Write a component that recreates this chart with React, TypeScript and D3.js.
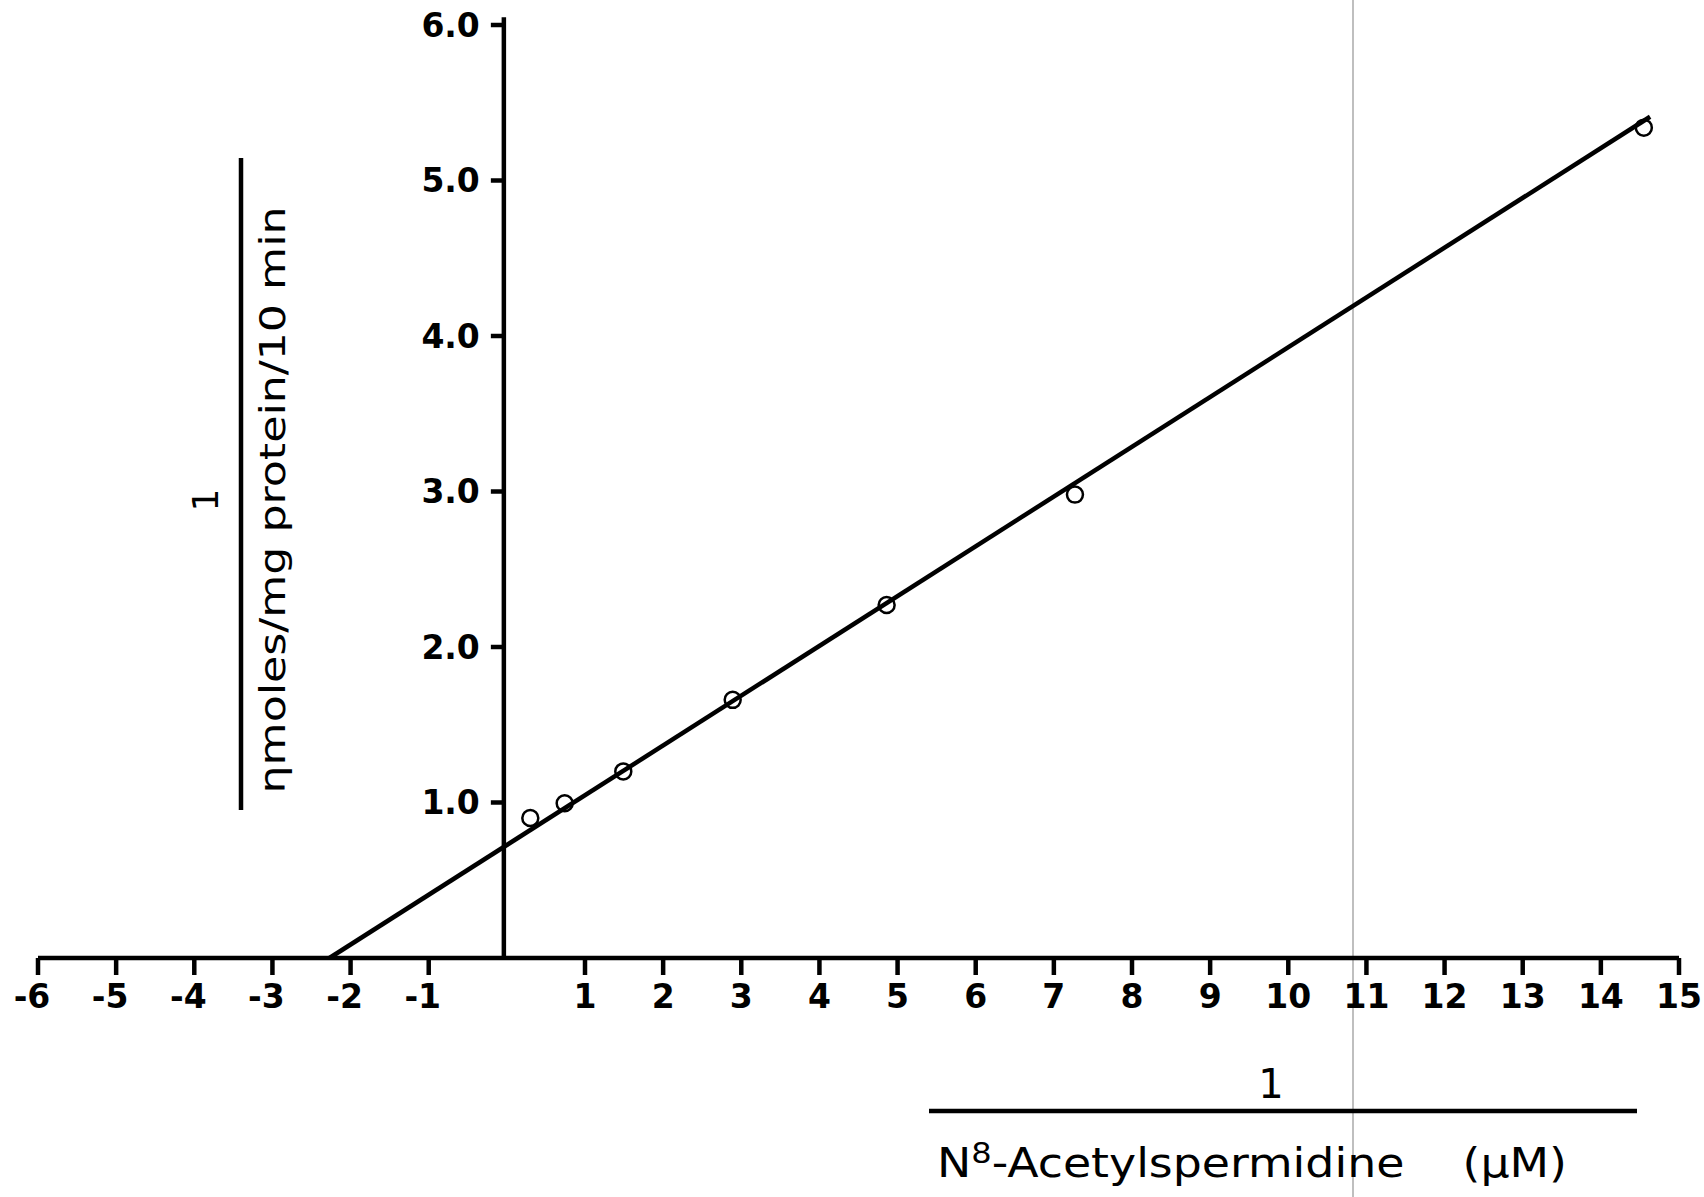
import React from "react";
import * as d3 from "d3";

const xTickValues = [-6, -5, -4, -3, -2, -1, 1, 2, 3, 4, 5, 6, 7, 8, 9, 10, 11, 12, 13, 14, 15];
const yTickValues = [1, 2, 3, 4, 5, 6];
const yTickLabels = ["1.0", "2.0", "3.0", "4.0", "5.0", "6.0"];
const pointX = [0.3, 0.74, 1.49, 2.89, 4.86, 7.27, 14.55];
const pointY = [0.9, 0.995, 1.2, 1.66, 2.27, 2.98, 5.34];
const fitX = [-2.27, 14.63];
const fitY = [0, 5.41];

const W = 1704;
const H = 1197;

export default function App() {
  const x = d3.scaleLinear().domain([-6, 15]).range([38, 1679]);
  const y = d3.scaleLinear().domain([0, 6]).range([958, 25]);
  const fitLine = d3
    .line<number>()
    .x((_, i) => x(fitX[i]))
    .y((_, i) => y(fitY[i]));
  const tickFont = "'DejaVu Sans', sans-serif";
  const labelFont = "'DejaVu Sans', sans-serif";
  const x0 = x(0) - 3;
  return (
    <svg
      width={W}
      height={H}
      style={{ position: "absolute", left: 0, top: 0, background: "#fff" }}
    >
      <rect x={0} y={0} width={W} height={H} fill="#fff" />
      {/* scanner artifact line */}
      <line x1={1353} x2={1353} y1={0} y2={H} stroke="#aaa" strokeWidth={1.5} />

      {/* x axis */}
      <line x1={x(-6)} x2={x(15)} y1={y(0)} y2={y(0)} stroke="#000" strokeWidth={4.5} />
      {xTickValues.map((v) => (
        <g key={"xt" + v}>
          <line x1={x(v)} x2={x(v)} y1={y(0)} y2={y(0) + 17} stroke="#000" strokeWidth={4.5} />
          <text
            x={x(v) - (v < 0 ? 6 : 0)}
            y={y(0) + 50}
            textAnchor="middle"
            fontFamily={tickFont}
            fontWeight="bold"
            fontSize={33}
          >
            {v < 0 ? "-" + Math.abs(v) : String(v)}
          </text>
        </g>
      ))}

      {/* y axis */}
      <line x1={x0} x2={x0} y1={y(0)} y2={y(6.05)} stroke="#000" strokeWidth={4.5} />
      {yTickValues.map((v, i) => (
        <g key={"yt" + v}>
          <line x1={x0 - 13} x2={x0} y1={y(v)} y2={y(v)} stroke="#000" strokeWidth={4.5} />
          <text
            x={x0 - 24}
            y={y(v)}
            dy="0.36em"
            textAnchor="end"
            fontFamily={tickFont}
            fontWeight="bold"
            fontSize={33}
          >
            {yTickLabels[i]}
          </text>
        </g>
      ))}

      {/* fitted line */}
      <path d={fitLine(fitX) || ""} fill="none" stroke="#000" strokeWidth={4.5} />

      {/* points */}
      {pointX.map((px, i) => (
        <circle
          key={"p" + i}
          cx={x(px)}
          cy={y(pointY[i])}
          r={8}
          fill="none"
          stroke="#000"
          strokeWidth={2.5}
        />
      ))}

      {/* y axis label (fraction) */}
      <line x1={241} x2={241} y1={158} y2={810} stroke="#000" strokeWidth={4.5} />
      <text
        transform="translate(218,500) rotate(-90)"
        textAnchor="middle"
        fontFamily={labelFont}
        fontSize={36}
      >
        1
      </text>
      <text
        transform="translate(285,500) rotate(-90)"
        textAnchor="middle"
        fontFamily={labelFont}
        fontSize={35}
        textLength={587}
        lengthAdjust="spacingAndGlyphs"
      >
        ηmoles/mg protein/10 min
      </text>

      {/* x axis label (fraction) */}
      <text x={1271} y={1098} textAnchor="middle" fontFamily={labelFont} fontSize={40}>
        1
      </text>
      <line x1={929} x2={1637} y1={1111} y2={1111} stroke="#000" strokeWidth={4.5} />
      <text
        x={937}
        y={1177}
        fontFamily={labelFont}
        fontSize={40}
        textLength={630}
        lengthAdjust="spacingAndGlyphs"
      >
        N<tspan dy={-14} fontSize={28}>8</tspan>
        <tspan dy={14}>-Acetylspermidine</tspan>
        <tspan>{"\u00a0\u00a0\u00a0\u00a0(μM)"}</tspan>
      </text>
    </svg>
  );
}
